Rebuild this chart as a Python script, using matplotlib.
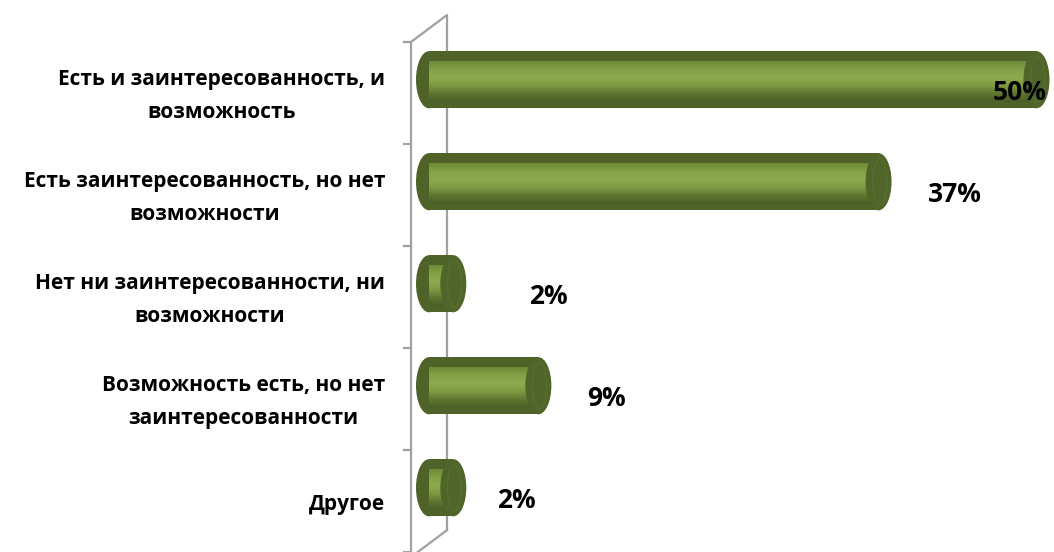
import numpy as np
import matplotlib
matplotlib.use("Agg")
import matplotlib.pyplot as plt
from matplotlib.patches import Ellipse, Rectangle
from matplotlib.colors import LinearSegmentedColormap

# Данные диаграммы
categories = [
    "Есть и заинтересованность, и\nвозможность",
    "Есть заинтересованность, но нет\nвозможности",
    "Нет ни заинтересованности, ни\nвозможности",
    "Возможность есть, но нет\nзаинтересованности",
    "Другое",
]
values = [50, 37, 2, 9, 2]
value_labels = ["50%", "37%", "2%", "9%", "2%"]
# сдвиг подписей значений (как в объёмной диаграмме Excel)
label_dx = [-1.4, 6.3, 7.8, 5.6, 5.2]

plt.rcParams['font.family'] = ['Open Sans', 'DejaVu Sans']

W, H = 1054, 552
fig = plt.figure(figsize=(W / 100, H / 100), dpi=100)
# ось: слева x=411px, сверху y=42px
ax = fig.add_axes([411 / W, 0, 643 / W, 510 / H])
px_per_pct = 12.15
x0 = (411 - 429) / px_per_pct
x1 = (1054 - 429) / px_per_pct
ax.set_xlim(x0, x1)
ax.set_ylim(4.5, -0.5)
ax.axis("off")

dark = "#4f6228"
grey = "#a0a0a0"
cmap = LinearSegmentedColormap.from_list(
    "cyl", ["#6f8a38", "#84a246", "#8dab4c", "#7e9a42", "#5e7630", "#4b5e25"])
grad = np.linspace(0, 1, 64).reshape(-1, 1)

h = 0.56       # высота цилиндра
hi = 0.40      # высота светлой части
ew = 26 / px_per_pct
shift = 0.13   # сдвиг вглубь

# стенки
dx_back = 36 / px_per_pct
dy_back = 27 / 102
ax.plot([x0, x0], [-0.5, 4.6], color=grey, lw=1.6, clip_on=False, zorder=1)
ax.plot([x0, x0 + dx_back, x0 + dx_back], [-0.5, -0.5 - dy_back, 4.55 - dy_back],
        color=grey, lw=1.6, clip_on=False, zorder=1)
ax.plot([x0 + dx_back, x0], [4.55 - dy_back, 4.55], color=grey, lw=1.6,
        clip_on=False, zorder=1)
for b in np.arange(-0.5, 4.6, 1.0):
    ax.plot([x0 - 7 / px_per_pct, x0], [b, b], color=grey, lw=1.6,
            clip_on=False, zorder=1)

for i, v in enumerate(values):
    yc = i - shift
    ax.add_patch(Ellipse((0, yc), ew, h, fc=dark, ec="none", zorder=3))
    ax.add_patch(Rectangle((0, yc - h / 2), v, h, fc=dark, ec="none", zorder=3))
    im = ax.imshow(grad, cmap=cmap, aspect="auto",
                   extent=[0, v, yc + hi / 2 + 0.02, yc - hi / 2 + 0.02],
                   interpolation="bilinear", zorder=4)
    clip = Rectangle((0, yc - hi / 2 + 0.02), v, hi, transform=ax.transData)
    im.set_clip_path(clip)
    ax.add_patch(Ellipse((v, yc), ew, h, fc="#50652a", ec="none", zorder=5))
    ax.add_patch(Ellipse((v + 0.1, yc), ew * 0.55, h * 0.8, fc="none",
                         ec="#566e2e", lw=1.0, zorder=6))
    ax.text(v + label_dx[i], i, value_labels[i], ha="center", va="center",
            fontsize=19, fontweight="bold", color="black", zorder=7)
    ax.text(x0 - 26 / px_per_pct, i + 0.03, categories[i], ha="right", va="center",
            multialignment="center", linespacing=1.72, fontsize=15,
            fontweight="bold", color="black", clip_on=False)

fig.savefig("out.png", dpi=100)
